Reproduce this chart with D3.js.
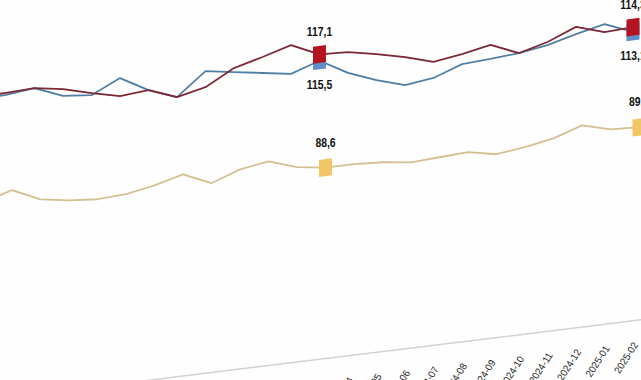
<!DOCTYPE html>
<html>
<head>
<meta charset="utf-8">
<script src="https://cdn.jsdelivr.net/npm/d3@7"></script>
<style>
  html, body { margin: 0; padding: 0; background: #fff; }
  svg { display: block; overflow: hidden; }
</style>
</head>
<body>
<div id="chart"></div>
<script>
// aylar (son etiket verisiz, eksen devam ediyor)
const months = ["2023-03","2023-04","2023-05","2023-06","2023-07","2023-08","2023-09","2023-10",
  "2023-11","2023-12","2024-01","2024-02","2024-03","2024-04","2024-05","2024-06","2024-07",
  "2024-08","2024-09","2024-10","2024-11","2024-12","2025-01","2025-02","2025-03"];

// seriler (resimden okunan yaklaşık değerler)
const redSeries = [116.9,117.1,117.4,116.3,114.4,112.8,113.4,110.8,112.4,116.3,118.2,120.3,
  117.1,116.8,115.4,113.8,111.7,112.8,114.2,111.3,113.2,116.1,113.9,114.3];
const blueSeries = [116.2,116.6,117.4,114.6,113.9,117.3,113.4,110.8,116.4,115.3,114.2,113.1,
  115.5,111.6,108.9,106.8,107.7,110.3,110.7,111.3,112.4,114.3,115.9,113.1];
const goldSeries = [90.4,92.6,89.4,88.3,87.7,88.1,89.4,91.3,88.2,90.8,91.9,89.6,
  88.6,88.6,88.2,87.3,87.7,88.1,86.7,87.6,88.9,91.3,89.4,89.1];

// işaretlenen noktalar (indeks)
const markIdx = [12, 23];

const width = 641, height = 380;
const FONT = "'Liberation Sans', Arial, sans-serif";

const svg = d3.select("#chart").append("svg")
  .attr("width", width)
  .attr("height", height);

svg.append("rect").attr("width", width).attr("height", height).attr("fill", "#fefefe");

// fotoğraftaki eğimi taklit etmek için tüm grafik eğik
const g = svg.append("g").attr("transform", "skewY(-7)");

const x = d3.scalePoint()
  .domain(months)
  .range([-22.5, 661.5]);

const y = d3.scaleLinear()
  .domain([41, 125])
  .range([398, 62]);

// x ekseni
const axis = g.append("g")
  .attr("transform", `translate(0,${y(41)})`)
  .call(d3.axisBottom(x).tickSize(0).tickPadding(0));

axis.select(".domain").attr("stroke", "#d2d2d2").attr("stroke-width", 1.5);
axis.selectAll("text")
  .attr("x", 0).attr("y", 0).attr("dy", "0.35em")
  .attr("transform", "translate(2,23) rotate(-55) scale(0.86,1)")
  .style("text-anchor", "end")
  .style("font-family", FONT)
  .style("font-size", "10.5px")
  .attr("fill", "#222");

const series = [
  { name: "gold", values: goldSeries, line: "#d3c090", mark: "#f2c565", dy: -21, dx: 6 },
  { name: "blue", values: blueSeries, line: "#4f7fa4", mark: "#5f8fc6", dy: 28, dx: 0 },
  { name: "red", values: redSeries, line: "#7a2834", mark: "#b3141f", dy: -18, dx: 0 }
];

series.forEach(s => {
  const line = d3.line()
    .x((d, i) => x(months[i]) + s.dx)
    .y(d => y(d));
  g.append("path")
    .datum(s.values)
    .attr("fill", "none")
    .attr("stroke", s.line)
    .attr("stroke-width", 1.8)
    .attr("stroke-linejoin", "round")
    .attr("d", line);
});

// işaretler (mavi önce, kırmızı üstte)
series.forEach(s => {
  g.selectAll(null)
    .data(markIdx)
    .join("rect")
    .attr("x", i => x(months[i]) + s.dx - 6.5)
    .attr("y", i => y(s.values[i]) - 8.5)
    .attr("width", 13)
    .attr("height", 17)
    .attr("fill", s.mark);
});

// değer etiketleri (eğimi geri alıyoruz)
series.forEach(s => {
  g.selectAll(null)
    .data(markIdx)
    .join("g")
    .attr("transform", i => `translate(${x(months[i]) + s.dx},${y(s.values[i]) + s.dy}) skewY(7) scale(0.8,1)`)
    .append("text")
    .attr("text-anchor", "middle")
    .style("font-family", FONT)
    .style("font-size", "13px")
    .style("font-weight", "bold")
    .attr("fill", "#111")
    .text(i => d3.format(".1f")(s.values[i]).replace(".", ","));
});
</script>
</body>
</html>
